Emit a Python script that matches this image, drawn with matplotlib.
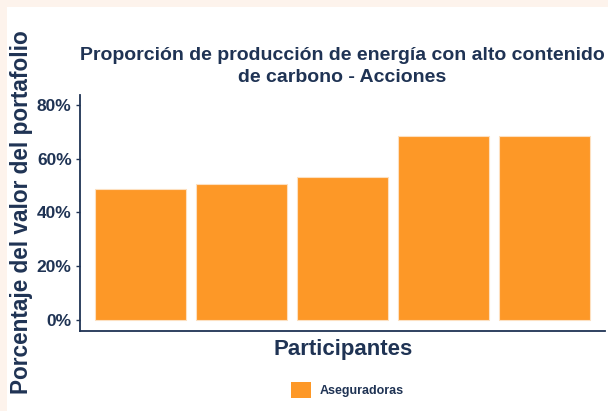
import matplotlib
matplotlib.use("Agg")
import matplotlib.pyplot as plt
from matplotlib.patches import Rectangle
from matplotlib.ticker import FuncFormatter

participants = ["P1", "P2", "P3", "P4", "P5"]
values = [48.9, 50.6, 53.2, 68.4, 68.4]
series_name = "Aseguradoras"
yticks = [0, 20, 40, 60, 80]
title = "Proporción de producción de energía con alto contenido\nde carbono - Acciones"
xlabel = "Participantes"
ylabel = "Porcentaje del valor del portafolio"

navy = "#1f3354"
orange = "#fd9827"
W, H = 608, 411
plt.rcParams["font.family"] = ["Liberation Sans", "DejaVu Sans"]
fig = plt.figure(figsize=(W / 100, H / 100), dpi=100)
fig.patch.set_facecolor("#fdf3ec")
fig.patches.append(Rectangle((7 / W, 0), 1, 1 - 7 / H, transform=fig.transFigure,
                             facecolor="white", edgecolor="none", zorder=-10))

ax = fig.add_axes([80 / W, (H - 331) / H, (605 - 80) / W, (331 - 95) / H])
ax.set_facecolor("white")
x = list(range(1, len(values) + 1))
ax.bar(x, values, width=0.9, color=orange, edgecolor="#fde0c0", linewidth=0.8, label=series_name)
ax.set_xlim(0.4, 5.6)
ax.set_ylim(-4.1, 83.7)
ax.set_yticks(yticks)
ax.yaxis.set_major_formatter(FuncFormatter(lambda v, p: f"{v:.0f}%"))
ax.set_xticks([])
for s in ["top", "right"]:
    ax.spines[s].set_visible(False)
for s in ["left", "bottom"]:
    ax.spines[s].set_color(navy)
    ax.spines[s].set_linewidth(1.3)
ax.tick_params(axis="y", colors=navy, length=3, width=1, labelsize=12.5, pad=3)
for lbl in ax.get_yticklabels():
    lbl.set_fontweight("bold")

fig.text(342 / W, 1 - 66.5 / H, title, ha="center", va="center", fontsize=14,
         fontweight="bold", color=navy, linespacing=1.4)
fig.text(343 / W, 1 - 349 / H, xlabel, ha="center", va="center", fontsize=16,
         fontweight="bold", color=navy)
fig.text(22 / W, 1 - 212 / H, ylabel, ha="center", va="center", rotation=90,
         fontsize=16.3, fontweight="bold", color=navy)

leg = fig.legend(loc="center", bbox_to_anchor=(347 / W, 1 - 390 / H), frameon=False,
                 fontsize=9, handlelength=1.6, handleheight=1.6, handletextpad=0.7)
for t in leg.get_texts():
    t.set_color(navy)
    t.set_fontweight("bold")
for h in leg.legend_handles:
    h.set_edgecolor("none")

fig.savefig("out.png", dpi=100, facecolor=fig.get_facecolor())
